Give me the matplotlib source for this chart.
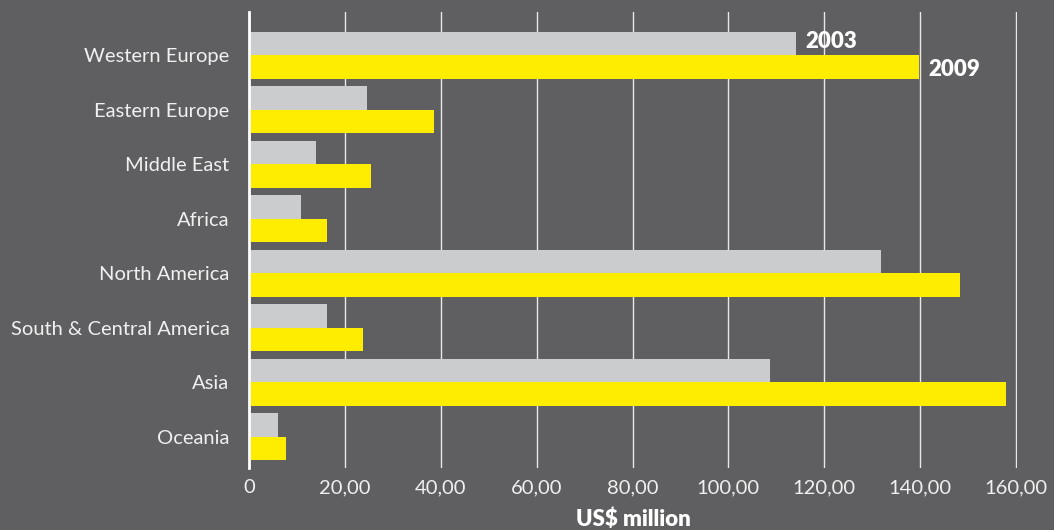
import matplotlib
matplotlib.use("Agg")
import matplotlib.pyplot as plt
import numpy as np

categories = ["Western Europe", "Eastern Europe", "Middle East", "Africa",
              "North America", "South & Central America", "Asia", "Oceania"]
values_2003 = [114.2, 24.6, 14.0, 10.8, 131.9, 16.2, 108.7, 6.0]
values_2009 = [139.8, 38.7, 25.4, 16.2, 148.3, 23.7, 157.9, 7.7]
xticks = [0, 20, 40, 60, 80, 100, 120, 140, 160]
xticklabels = ["0", "20,00", "40,00", "60,00", "80,00", "100,00", "120,00", "140,00", "160,00"]

BG = "#5f5f61"
GRAY = "#cbcccd"
YELLOW = "#ffed00"
TXT = "#f0f0f0"

plt.rcParams['font.family'] = ['Lato', 'DejaVu Sans']

fig = plt.figure(figsize=(10.54, 5.30), dpi=100, facecolor=BG)
ax = fig.add_axes([0.2362, 0.117, 0.7287, 0.8604], facecolor=BG)

y = np.arange(len(categories))
h = 0.43
ax.barh(y - h/2, values_2003, height=h, color=GRAY, zorder=3)
ax.barh(y + h/2, values_2009, height=h, color=YELLOW, zorder=3)

ax.set_xlim(0, 160.2)
ax.set_ylim(7.57, -0.79)
ax.set_xticks(xticks)
ax.set_xticklabels(xticklabels, color=TXT, fontsize=14.5)
ax.set_yticks(y)
ax.set_yticklabels(categories, color=TXT, fontsize=14.5)
ax.tick_params(axis='y', length=0, pad=14)
ax.tick_params(axis='x', length=0, pad=8)
ax.xaxis.grid(True, color="#e8e8e8", linewidth=1.0, zorder=0)
ax.set_axisbelow(True)
for s in ["top", "right", "bottom"]:
    ax.spines[s].set_visible(False)
ax.spines["left"].set_color("white")
ax.spines["left"].set_linewidth(2)
ax.spines["left"].set_zorder(4)

ax.text(values_2003[0] + 1.8, 0 - h/2 - 0.03, "2003", color="white", fontsize=16,
        fontweight="heavy", va="center", ha="left", zorder=5)
ax.text(values_2009[0] + 2, 0 + h/2 + 0.05, "2009", color="white", fontsize=16,
        fontweight="heavy", va="center", ha="left", zorder=5)

ax.set_xlabel("US$ million", color="white", fontsize=16, fontweight="heavy", labelpad=9)

fig.savefig("out.png", dpi=100, facecolor=BG)
